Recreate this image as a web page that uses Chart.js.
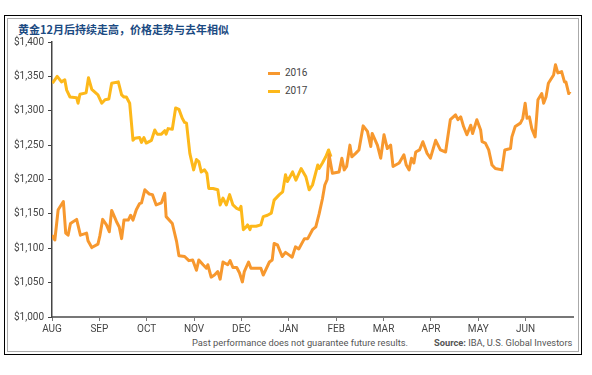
<!DOCTYPE html>
<html>
<head>
<meta charset="utf-8">
<script src="https://cdn.jsdelivr.net/npm/chart.js@4/dist/chart.umd.min.js"></script>
<style>
  html, body { margin: 0; padding: 0; background: #fff; }
  body { width: 592px; height: 375px; position: relative; overflow: hidden; font-family: Roboto, 'Liberation Sans', sans-serif; }
  .frame { position: absolute; left: 4px; top: 15px; width: 576px; height: 338px; border: 1px solid #000; }
  .inner { position: absolute; left: 7px; top: 18px; width: 570px; height: 332px; border: 1px solid #aaa; }
  #title { position: absolute; left: 18px; top: 21px; font: bold 11px 'Noto Sans CJK SC', sans-serif; color: #1b4a82; white-space: nowrap; }
  #legend { position: absolute; left: 268px; top: 66px; font-size: 10px; color: #444; }
  #legend div { height: 18px; line-height: 14px; white-space: nowrap; }
  #legend span.swatch { display: inline-block; width: 12px; height: 3px; vertical-align: middle; margin-right: 5px; }
  .foot { position: absolute; top: 337px; font-size: 9.3px; color: #555; white-space: nowrap; }
  canvas { position: absolute; left: 0; top: 0; }
</style>
</head>
<body>
<div class="frame"></div>
<div class="inner"></div>
<div id="title">黄金12月后持续走高，价格走势与去年相似</div>
<div id="legend"></div>
<div class="foot" style="left:192px">Past performance does not guarantee future results.</div>
<div class="foot" style="left:434px"><b>Source:</b> IBA, U.S. Global Investors</div>
<canvas id="chart" width="592" height="375"></canvas>
<script>
// month ticks along the bottom (x = months since Aug)
const months = ['AUG', 'SEP', 'OCT', 'NOV', 'DEC', 'JAN', 'FEB', 'MAR', 'APR', 'MAY', 'JUN'];

// "2016" line (orange)
const x2016 = [0.00, 0.06, 0.13, 0.24, 0.29, 0.34, 0.39, 0.52, 0.60, 0.73, 0.76, 0.84, 0.97, 1.01, 1.07, 1.15, 1.21, 1.26,
  1.36, 1.42, 1.47, 1.52, 1.61, 1.66, 1.71, 1.78, 1.85, 1.89, 1.96, 2.05, 2.12, 2.20, 2.31, 2.38, 2.41, 2.54, 2.63, 2.68,
  2.80, 2.89, 2.97, 3.05, 3.10, 3.19, 3.26, 3.29, 3.36, 3.43, 3.50, 3.55, 3.61, 3.71, 3.76, 3.82, 3.90, 3.96, 4.02, 4.06,
  4.15, 4.20, 4.31, 4.41, 4.46, 4.59, 4.65, 4.69, 4.76, 4.86, 4.93, 5.01, 5.07, 5.14, 5.21, 5.33, 5.40, 5.50, 5.57, 5.64,
  5.71, 5.76, 5.81, 5.85, 5.92, 6.06, 6.12, 6.17, 6.22, 6.29, 6.33, 6.41, 6.48, 6.57, 6.66, 6.73, 6.76, 6.87, 6.94, 7.01,
  7.08, 7.15, 7.20, 7.33, 7.43, 7.48, 7.54, 7.59, 7.64, 7.68, 7.76, 7.83, 7.92, 7.99, 8.10, 8.20, 8.31, 8.41, 8.52, 8.57,
  8.63, 8.69, 8.76, 8.84, 8.88, 8.97, 9.05, 9.08, 9.15, 9.22, 9.29, 9.36, 9.50, 9.56, 9.68, 9.71, 9.78, 9.89, 9.94, 9.99,
  10.03, 10.08, 10.13, 10.20, 10.26, 10.34, 10.38, 10.43, 10.48, 10.59, 10.63, 10.68, 10.76, 10.82, 10.85, 10.91, 10.94];
const price2016 = [1119, 1112, 1156, 1168, 1122, 1119, 1136, 1142, 1119, 1122, 1111, 1101, 1106, 1118, 1142, 1134, 1124, 1155,
  1139, 1131, 1114, 1141, 1141, 1148, 1141, 1156, 1165, 1166, 1185, 1179, 1178, 1163, 1166, 1180, 1146, 1136, 1110, 1089,
  1088, 1082, 1083, 1068, 1083, 1076, 1071, 1076, 1058, 1061, 1066, 1055, 1080, 1076, 1082, 1072, 1072, 1064, 1051, 1066,
  1080, 1071, 1071, 1071, 1061, 1080, 1083, 1107, 1105, 1088, 1094, 1090, 1087, 1102, 1099, 1114, 1114, 1127, 1131, 1150,
  1172, 1192, 1200, 1236, 1209, 1211, 1231, 1214, 1219, 1250, 1233, 1238, 1243, 1278, 1270, 1248, 1267, 1250, 1231, 1265,
  1245, 1250, 1219, 1224, 1236, 1221, 1214, 1231, 1224, 1240, 1243, 1255, 1238, 1231, 1257, 1243, 1240, 1287, 1294, 1287,
  1291, 1277, 1265, 1279, 1267, 1287, 1272, 1255, 1253, 1243, 1221, 1216, 1214, 1243, 1245, 1262, 1277, 1282, 1289, 1311,
  1289, 1291, 1274, 1262, 1316, 1325, 1311, 1320, 1340, 1352, 1367, 1355, 1357, 1342, 1342, 1325, 1328];

// "2017" line (yellow)
const x2017 = [0.01, 0.11, 0.20, 0.27, 0.31, 0.38, 0.52, 0.55, 0.59, 0.72, 0.77, 0.84, 0.97, 1.05, 1.12, 1.20, 1.26, 1.40,
  1.47, 1.52, 1.57, 1.64, 1.71, 1.75, 1.85, 1.89, 1.94, 1.99, 2.10, 2.17, 2.22, 2.31, 2.38, 2.41, 2.45, 2.54, 2.61, 2.68,
  2.75, 2.80, 2.84, 2.91, 2.99, 3.05, 3.10, 3.15, 3.22, 3.27, 3.31, 3.40, 3.50, 3.55, 3.61, 3.68, 3.75, 3.82, 3.90, 3.96,
  3.99, 4.04, 4.10, 4.13, 4.18, 4.20, 4.31, 4.41, 4.46, 4.55, 4.63, 4.69, 4.80, 4.87, 4.93, 4.97, 5.08, 5.15, 5.26, 5.36,
  5.43, 5.50, 5.61, 5.64, 5.71, 5.78, 5.84, 5.89];
const price2017 = [1340, 1350, 1342, 1345, 1330, 1320, 1319, 1311, 1324, 1326, 1348, 1331, 1323, 1311, 1316, 1317, 1340, 1342,
  1323, 1320, 1320, 1311, 1257, 1260, 1261, 1254, 1261, 1253, 1257, 1272, 1266, 1266, 1271, 1266, 1274, 1273, 1304, 1302,
  1289, 1283, 1282, 1238, 1214, 1229, 1226, 1211, 1214, 1209, 1187, 1187, 1185, 1163, 1173, 1163, 1178, 1163, 1158, 1156,
  1161, 1127, 1131, 1134, 1127, 1132, 1132, 1134, 1146, 1148, 1151, 1170, 1178, 1182, 1207, 1197, 1211, 1199, 1216, 1204,
  1185, 1192, 1221, 1216, 1224, 1233, 1243, 1233];

const yMin = 1000, yMax = 1400, yStep = 50;

const toPoints = (xs, ys) => xs.map((x, i) => ({ x, y: ys[i] }));
const tickFont = { family: 'Roboto, "Liberation Sans", sans-serif', size: 10 };

const ctx = document.getElementById('chart').getContext('2d');
const chart = new Chart(ctx, {
  type: 'line',
  data: {
    datasets: [
      {
        label: '2016',
        data: toPoints(x2016, price2016),
        borderColor: '#f7982e',
        borderWidth: 3,
        pointRadius: 0,
        tension: 0,
        borderJoinStyle: 'round',
        fill: false
      },
      {
        label: '2017',
        data: toPoints(x2017, price2017),
        borderColor: '#fdb81a',
        borderWidth: 3,
        pointRadius: 0,
        tension: 0,
        borderJoinStyle: 'round',
        fill: false
      }
    ]
  },
  options: {
    responsive: false,
    animation: false,
    layout: { padding: { top: 42, right: 19, left: 0, bottom: 0 } },
    plugins: {
      legend: { display: false },
      tooltip: { enabled: false }
    },
    scales: {
      x: {
        type: 'linear',
        min: 0,
        max: months.length,
        afterBuildTicks: s => { s.ticks = months.map((_, i) => ({ value: i })); },
        afterFit: s => { s.height = 58; },
        ticks: {
          color: '#444', font: tickFont, padding: 2, maxRotation: 0, autoSkip: false,
          callback: v => months[v] || ''
        },
        grid: { drawOnChartArea: false, drawTicks: true, tickLength: 4, color: '#777', lineWidth: 1 },
        border: { display: true, color: '#777', width: 2 }
      },
      y: {
        min: yMin,
        max: yMax,
        afterFit: s => { s.width = 52; },
        ticks: {
          stepSize: yStep, color: '#444', font: tickFont, padding: 4,
          callback: v => '$' + v.toLocaleString('en-US')
        },
        grid: { drawOnChartArea: false, drawTicks: true, tickLength: 4, color: '#444', lineWidth: 1 },
        border: { display: true, color: '#444', width: 1.5 }
      }
    }
  }
});

document.getElementById('legend').innerHTML = chart.data.datasets.map(d =>
  `<div><span class="swatch" style="background:${d.borderColor}"></span>${d.label}</div>`
).join('');
</script>
</body>
</html>
